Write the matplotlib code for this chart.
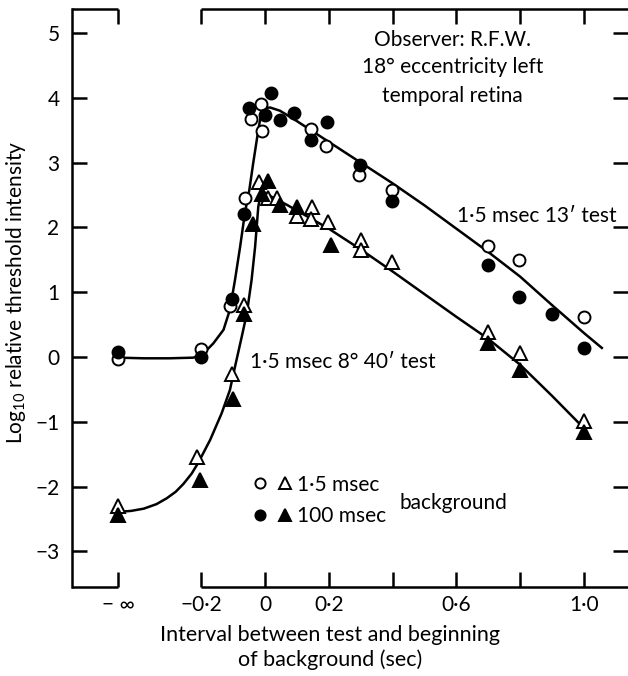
import numpy as np
import matplotlib
matplotlib.use("Agg")
import matplotlib.pyplot as plt
from matplotlib.legend_handler import HandlerTuple

plt.rcParams["font.family"] = ["Lato", "DejaVu Sans"]
plt.rcParams["mathtext.default"] = "regular"

NEG_INF = -np.inf
# where the "minus infinity" column sits on the x axis
NEG_INF_POS = -0.46

# 1.5 msec background (open circles), 13' test
open_circ_x = [NEG_INF, -0.2, -0.11, -0.062, -0.045, -0.013, -0.009, 0.144, 0.191,
               0.295, 0.397, 0.70, 0.797, 1.0]
open_circ_y = [-0.03, 0.12, 0.78, 2.46, 3.68, 3.90, 3.49, 3.52, 3.25,
               2.81, 2.58, 1.71, 1.49, 0.61]

# 100 msec background (filled circles), 13' test
fill_circ_x = [NEG_INF, -0.2, -0.104, -0.067, -0.049, 0.0, 0.019, 0.047, 0.092,
               0.144, 0.194, 0.298, 0.397, 0.70, 0.797, 0.899, 1.0]
fill_circ_y = [0.07, 0.0, 0.89, 2.21, 3.85, 3.73, 4.08, 3.65, 3.77,
               3.35, 3.63, 2.96, 2.40, 1.42, 0.92, 0.66, 0.14]

# 1.5 msec background (open triangles), 8 deg 40' test
open_tri_x = [NEG_INF, -0.214, -0.102, -0.066, -0.02, 0.01, 0.039, 0.099, 0.147,
              0.144, 0.198, 0.30, 0.30, 0.399, 0.70, 0.80, 1.0]
open_tri_y = [-2.30, -1.54, -0.26, 0.80, 2.70, 2.46, 2.45, 2.18, 2.32,
              2.13, 2.09, 1.81, 1.65, 1.47, 0.39, 0.06, -0.98]

# 100 msec background (filled triangles), 8 deg 40' test
fill_tri_x = [NEG_INF, -0.204, -0.099, -0.066, -0.037, -0.01, 0.008, 0.047, 0.099,
              0.206, 0.70, 0.80, 1.0]
fill_tri_y = [-2.44, -1.90, -0.65, 0.67, 2.06, 2.52, 2.71, 2.35, 2.32,
              1.73, 0.21, -0.20, -1.16]

# hand drawn curves
curve_13_x = [NEG_INF, -0.38, -0.30, -0.225, -0.198, -0.162, -0.13, -0.11, -0.094,
              -0.078, -0.063, -0.049, -0.037, -0.021, -0.013, -0.005, 0.016, 0.047,
              0.1, 0.2, 0.3, 0.4, 0.5, 0.6, 0.7, 0.8, 0.9, 1.0, 1.056]
curve_13_y = [-0.01, -0.02, -0.02, -0.01, 0.03, 0.21, 0.42, 0.73, 1.19,
              1.70, 2.22, 2.58, 2.99, 3.50, 3.73, 3.84, 3.85, 3.80,
              3.64, 3.32, 3.00, 2.68, 2.34, 1.98, 1.62, 1.24, 0.80, 0.37, 0.14]

curve_840_x = [NEG_INF, -0.42, -0.38, -0.34, -0.308, -0.28, -0.256, -0.23, -0.209,
               -0.172, -0.136, -0.11, -0.094, -0.073, -0.057, -0.042, -0.031, -0.021,
               -0.013, -0.005, 0.021, 0.068, 0.1, 0.2, 0.3, 0.4, 0.5, 0.6, 0.7, 0.8,
               0.9, 1.0, 1.005]
curve_840_y = [-2.39, -2.375, -2.34, -2.27, -2.18, -2.08, -1.96, -1.80, -1.63,
               -1.28, -0.87, -0.51, -0.15, 0.31, 0.67, 1.19, 1.70, 2.32,
               2.52, 2.55, 2.47, 2.35, 2.26, 1.98, 1.66, 1.32, 0.97, 0.62, 0.28, -0.12,
               -0.60, -1.10, -1.13]

x_ticks = [NEG_INF, -0.2, 0.0, 0.2, 0.4, 0.6, 0.8, 1.0]
x_tick_labels = ["\u2212 \u221e", "\u22120\u00b72", "0", "0\u00b72", "", "0\u00b76", "", "1\u00b70"]
y_ticks = [-3, -2, -1, 0, 1, 2, 3, 4, 5]
y_tick_labels = ["\u22123", "\u22122", "\u22121", "0", "1", "2", "3", "4", "5"]


def xpos(vals):
    """map the -inf column onto its place on the axis"""
    v = np.asarray(vals, dtype=float)
    return np.where(np.isinf(v), NEG_INF_POS, v)


fig = plt.figure(figsize=(6.28, 6.76), dpi=100)
ax = fig.add_axes([72 / 628, 1 - 587 / 676, 556 / 628, 578 / 676])
xmin, xmax = -0.605, 1.138
ax.set_xlim(xmin, xmax)
ax.set_ylim(-3.549, 5.37)

lw = 1.8
line_style = {"color": "k", "lw": lw, "solid_joinstyle": "round", "zorder": 2}
ax.plot(xpos(curve_13_x), curve_13_y, **line_style)
ax.plot(xpos(curve_840_x), curve_840_y, **line_style)

circ = {"ls": "", "marker": "o", "ms": 8.6, "mec": "k", "mew": 1.4, "zorder": 3}
tri = {"ls": "", "marker": "^", "ms": 9.5, "mec": "k", "mew": 1.4, "zorder": 3}
h_oc, = ax.plot(xpos(open_circ_x), open_circ_y, mfc="white", **circ)
h_fc, = ax.plot(xpos(fill_circ_x), fill_circ_y, mfc="k", **circ)
h_ot, = ax.plot(xpos(open_tri_x), open_tri_y, mfc="white", **tri)
h_ft, = ax.plot(xpos(fill_tri_x), fill_tri_y, mfc="k", **tri)

# spines: left only, top and bottom broken between -inf and -0.2
for side in ["top", "bottom", "right"]:
    ax.spines[side].set_visible(False)
ax.spines["left"].set_linewidth(lw)
trans = ax.get_xaxis_transform()
for yy in [0, 1]:
    ax.plot([xmin, NEG_INF_POS], [yy, yy], transform=trans, color="k", lw=lw,
            clip_on=False, solid_capstyle="butt")
    ax.plot([-0.2, xmax], [yy, yy], transform=trans, color="k", lw=lw,
            clip_on=False, solid_capstyle="butt")

ax.set_xticks(xpos(x_ticks))
ax.set_xticklabels(x_tick_labels)
ax.set_yticks(y_ticks)
ax.set_yticklabels(y_tick_labels)
ax.tick_params(axis="both", direction="in", length=10.5, width=lw, top=True,
               right=True, labelsize=15)
ax.tick_params(axis="x", pad=6)
ax.tick_params(axis="y", pad=9)

ax.set_ylabel("Log$_{10}$ relative threshold intensity", fontsize=15,
              ha="center", va="center")
ax.yaxis.set_label_coords(-0.1007, 0.509)
ax.set_xlabel("Interval between test and beginning\nof background (sec)",
              fontsize=15.5, ha="center", va="center", linespacing=1.25)
ax.xaxis.set_label_coords(0.464, -0.1047)

fs = 15
txt = {"fontsize": fs, "ha": "center", "va": "center"}
ax.text(0.589, 4.89, "Observer: R.F.W.", **txt)
ax.text(0.589, 4.48, "18\u00b0 eccentricity left", **txt)
ax.text(0.589, 4.03, "temporal retina", **txt)
ax.text(0.602, 2.18, "1\u00b75 msec 13\u2032 test", fontsize=fs, ha="left", va="center")
ax.text(-0.047, -0.08, "1\u00b75 msec 8\u00b0 40\u2032 test", fontsize=fs, ha="left",
        va="center")

leg = ax.legend([(h_oc, h_ot), (h_fc, h_ft)], ["1\u00b75 msec", "100 msec"],
                handler_map={tuple: HandlerTuple(ndivide=None, pad=0.5)},
                loc="center left", bbox_to_anchor=(0.325, 0.150), frameon=False,
                fontsize=15, borderpad=0, handlelength=1.9, handletextpad=0.25,
                labelspacing=0.55, markerscale=0.85, borderaxespad=0)
ax.text(0.423, -2.25, "background", fontsize=15, ha="left", va="center")

fig.savefig("out.png", dpi=100)
